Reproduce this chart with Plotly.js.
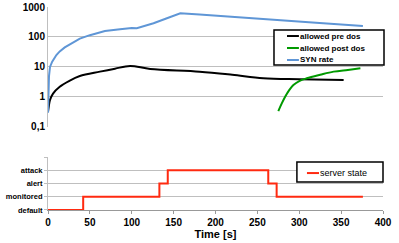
<!DOCTYPE html>
<html><head><meta charset="utf-8">
<script src="https://cdn.plot.ly/plotly-3.0.1.min.js"></script>
<style>body{margin:0;padding:0;}#c{width:399px;height:243px;}</style>
</head><body><div id="c"></div>
<script>
const synX = [0, 0.6, 1.2, 2.4, 5, 10, 14, 20, 28, 38, 50, 68, 86, 100, 106, 116, 126, 142, 158, 181, 250, 320, 376];
const synY = [0.3, 2, 5, 10, 15, 25, 33, 45, 62, 88, 115, 158, 181, 200, 195, 235, 287, 420, 613, 560, 400, 300, 232];
const preX = [0, 1, 2.4, 6, 14, 25, 38, 62, 80, 98, 122, 181, 220, 257, 300, 353];
const preY = [0.32, 0.5, 0.8, 1.3, 2.2, 3.4, 5, 7, 8.8, 10.8, 8.6, 7, 5.5, 4.2, 3.9, 3.7];
const postX = [275, 279, 283, 288, 293, 300, 309, 325, 341, 358, 373];
const postY = [0.34, 0.6, 1.0, 1.7, 2.5, 3.4, 4.2, 5.5, 7, 8, 9];
const stateX = [0, 42, 42, 133, 133, 143, 143, 263, 263, 273, 273, 376];
const stateY = [0, 0, 1, 1, 2, 2, 3, 3, 2, 2, 1, 1];
const stateLabels = ['default', 'monitored', 'alert', 'attack'];
const logTicks = [0.1, 1, 10, 100, 1000];
const logTickText = ['0,1', '1', '10', '100', '1000'];
const xTicks = [0, 50, 100, 150, 200, 250, 300, 350, 400];
const seriesNames = ['allowed pre dos', 'allowed post dos', 'SYN rate', 'server state'];

const F = 'Liberation Sans, Arial, sans-serif';
const grid = '#bfbfbf';
const colors = ['#000000', '#009900', '#5f96d6', '#ff2a10'];
const traces = [
  {x: preX, y: preY, name: seriesNames[0], mode: 'lines', line: {color: colors[0], width: 2, shape: 'spline'}, xaxis: 'x', yaxis: 'y'},
  {x: postX, y: postY, name: seriesNames[1], mode: 'lines', line: {color: colors[1], width: 2, shape: 'spline'}, xaxis: 'x', yaxis: 'y'},
  {x: synX, y: synY, name: seriesNames[2], mode: 'lines', line: {color: colors[2], width: 2}, xaxis: 'x', yaxis: 'y'},
  {x: stateX, y: stateY, name: seriesNames[3], mode: 'lines', line: {color: colors[3], width: 2}, xaxis: 'x2', yaxis: 'y2'}
];

// manual legends (paper coordinates)
const shapes = [];
const annotations = [];
function legendBox(x0, x1, y0, y1) {
  shapes.push({type: 'rect', xref: 'paper', yref: 'paper', x0: x0, x1: x1, y0: y0, y1: y1,
               fillcolor: '#ffffff', line: {color: '#000000', width: 1.5}, layer: 'above'});
}
function legendItem(i, lx0, lx1, y, size, bold) {
  shapes.push({type: 'line', xref: 'paper', yref: 'paper', x0: lx0, x1: lx1, y0: y, y1: y,
               line: {color: colors[i], width: 2}, layer: 'above'});
  annotations.push({xref: 'paper', yref: 'paper', x: lx1, y: y, xanchor: 'left', yanchor: 'middle',
                    text: bold ? '<b>' + seriesNames[i] + '</b>' : seriesNames[i], showarrow: false,
                    font: {size: size, family: F, color: '#000000'}, xshift: -1});
}
legendBox(0.6746, 1.003, 0.7143, 0.8867);
legendItem(0, 0.7134, 0.749, 0.857, 8, true);
legendItem(1, 0.7134, 0.749, 0.798, 8, true);
legendItem(2, 0.7134, 0.749, 0.739, 8, true);
legendBox(0.743, 1.0, 0.138, 0.236);
legendItem(3, 0.773, 0.809, 0.182, 9, false);

const layout = {
  width: 399, height: 243,
  margin: {l: 48, r: 16, t: 7, b: 33},
  paper_bgcolor: '#ffffff', plot_bgcolor: '#ffffff',
  font: {family: F, color: '#000000'},
  showlegend: false,
  shapes: shapes, annotations: annotations,
  xaxis: {domain: [0, 1], range: [0, 400], anchor: 'y', showticklabels: false, showgrid: false, zeroline: false, showline: false, ticks: ''},
  yaxis: {domain: [0.409, 1], type: 'log', range: [-1, 3], tickvals: logTicks, ticktext: logTickText,
          tickfont: {size: 10, family: F, weight: 'bold'}, gridcolor: grid, gridwidth: 1, showline: true, linecolor: grid, zeroline: false, ticks: ''},
  xaxis2: {domain: [0, 1], range: [0, 400], anchor: 'y2', tickvals: xTicks, ticks: 'outside', ticklen: 3, tickcolor: '#999999',
           showline: true, linecolor: '#999999', showgrid: false, zeroline: false,
           tickfont: {size: 10, family: F, weight: 'bold'},
           title: {text: 'Time [s]', font: {size: 11, family: F, weight: 'bold'}, standoff: 1}},
  yaxis2: {domain: [0, 0.261], range: [0, 4], tickvals: [0, 1, 2, 3, 4], ticktext: stateLabels.concat(['']),
           tickfont: {size: 7.5, family: F, weight: 'bold'}, gridcolor: grid, showline: true, linecolor: grid, zeroline: false,
           ticks: 'outside', ticklen: 3, tickcolor: grid}
};
Plotly.newPlot('c', traces, layout, {displayModeBar: false, staticPlot: true});
</script></body></html>
